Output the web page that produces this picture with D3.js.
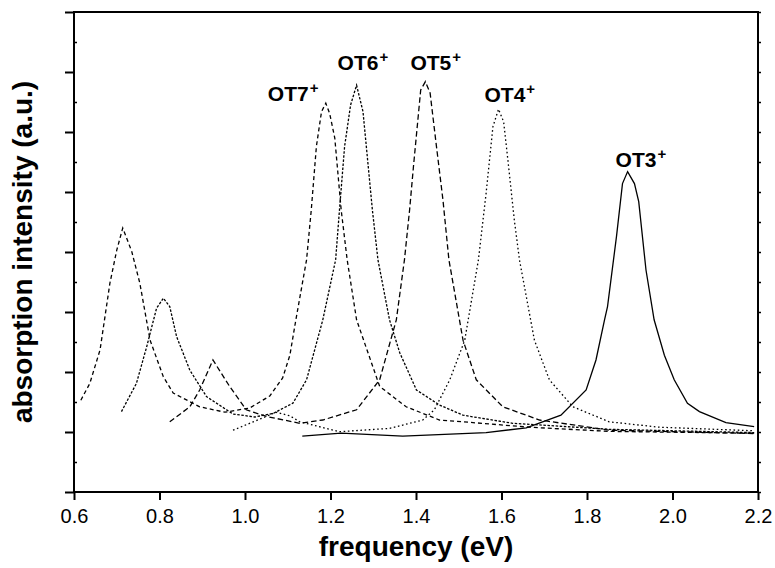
<!DOCTYPE html>
<html>
<head>
<meta charset="utf-8">
<script src="https://cdn.jsdelivr.net/npm/d3@7"></script>
<style>
  body { margin: 0; background: #fff; }
  svg text { font-family: "Liberation Sans", Arial, sans-serif; fill: #000; }
</style>
</head>
<body>
<div id="chart"></div>
<script>
// spectra: [frequency (eV), intensity (a.u.)]
var ot7 = [[0.616,0.53],[0.637,0.81],[0.661,1.37],[0.684,2.48],[0.700,3.03],[0.714,3.40],[0.735,3.01],[0.754,2.48],[0.778,1.53],[0.809,0.92],[0.832,0.65],[0.894,0.42],[0.953,0.33],[1.011,0.40],[1.058,0.60],[1.088,0.90],[1.105,1.28],[1.119,1.87],[1.144,2.87],[1.155,3.70],[1.167,4.76],[1.179,5.34],[1.189,5.48],[1.198,5.31],[1.210,4.90],[1.225,3.70],[1.239,2.87],[1.261,1.87],[1.315,0.76],[1.377,0.42],[1.455,0.20],[1.510,0.17],[1.665,0.08],[1.852,0.01],[2.191,-0.02]];
var ot6 = [[0.711,0.34],[0.746,0.81],[0.770,1.42],[0.793,2.06],[0.809,2.23],[0.824,2.09],[0.840,1.59],[0.871,1.03],[0.910,0.59],[0.972,0.30],[1.023,0.25],[1.066,0.31],[1.112,0.48],[1.144,0.87],[1.182,1.87],[1.212,2.87],[1.221,3.70],[1.233,4.76],[1.247,5.45],[1.261,5.78],[1.276,5.34],[1.298,3.70],[1.311,2.87],[1.338,1.87],[1.362,1.32],[1.401,0.70],[1.455,0.45],[1.510,0.28],[1.626,0.145],[1.852,0.045],[2.191,-0.01]];
var ot5 = [[0.824,0.17],[0.871,0.42],[0.894,0.70],[0.925,1.20],[0.964,0.76],[1.003,0.37],[1.050,0.26],[1.128,0.145],[1.182,0.20],[1.261,0.37],[1.315,0.87],[1.354,1.87],[1.373,2.87],[1.385,3.70],[1.394,4.42],[1.411,5.70],[1.422,5.84],[1.433,5.65],[1.447,4.81],[1.463,3.87],[1.477,2.87],[1.510,1.53],[1.541,0.87],[1.603,0.42],[1.689,0.20],[1.852,0.03],[2.191,-0.025]];
var ot4 = [[0.972,0.03],[1.050,0.26],[1.072,0.33],[1.105,0.27],[1.128,0.17],[1.221,0.005],[1.338,0.06],[1.416,0.20],[1.443,0.37],[1.479,0.87],[1.514,1.53],[1.546,2.87],[1.564,3.98],[1.580,5.09],[1.593,5.38],[1.605,5.17],[1.615,4.53],[1.630,3.53],[1.642,2.87],[1.677,1.53],[1.712,0.87],[1.767,0.42],[1.852,0.17],[1.969,0.08],[2.191,0.02]];
var ot3 = [[1.134,-0.07],[1.225,-0.02],[1.369,-0.07],[1.564,-0.01],[1.658,0.07],[1.739,0.28],[1.798,0.70],[1.821,1.20],[1.841,1.87],[1.848,2.09],[1.869,3.26],[1.883,4.14],[1.895,4.34],[1.911,4.14],[1.921,3.84],[1.938,2.70],[1.957,1.87],[1.981,1.28],[2.004,0.87],[2.035,0.48],[2.063,0.34],[2.125,0.155],[2.191,0.09]];

var seriesNames = ["OT7","OT6","OT5","OT4","OT3"];
var xTicks = [0.6,0.8,1.0,1.2,1.4,1.6,1.8,2.0,2.2];
var xTitle = "frequency (eV)";
var yTitle = "absorption intensity (a.u.)";

var width = 775, height = 568;
var pLeft = 74, pRight = 758, pTop = 12, pBottom = 492;

var svg = d3.select("#chart").append("svg")
  .attr("width", width)
  .attr("height", height);

var x = d3.scaleLinear().domain([0.6, 2.2]).range([pLeft, pRight]);
var y = d3.scaleLinear().domain([-1, 7]).range([pBottom, pTop]);

// axes
svg.append("g")
  .attr("transform", "translate(0," + pBottom + ")")
  .call(d3.axisBottom(x).tickValues(xTicks).tickFormat(d3.format(".1f")).tickSize(8).tickPadding(9))
  .call(function(g){
    g.select(".domain").remove();
    g.selectAll("line").attr("stroke-width", 2);
    g.selectAll("text").style("font-size", "20px");
  });

var yMajor = d3.range(-1, 7.01, 1);
var yMinor = d3.range(-0.5, 7, 1);

svg.append("g")
  .attr("transform", "translate(" + pLeft + ",0)")
  .call(d3.axisLeft(y).tickValues(yMajor).tickFormat("").tickSize(9))
  .call(function(g){ g.select(".domain").remove(); g.selectAll("line").attr("stroke-width", 2); });

svg.append("g")
  .attr("transform", "translate(" + pLeft + ",0)")
  .call(d3.axisRight(y).tickValues(yMinor).tickFormat("").tickSize(3))
  .call(function(g){ g.select(".domain").remove(); g.selectAll("line").attr("stroke-width", 1.5); });

svg.append("g")
  .attr("transform", "translate(" + pRight + ",0)")
  .call(d3.axisRight(y).tickValues(d3.range(-1, 7.01, 0.5)).tickFormat("").tickSize(3))
  .call(function(g){ g.select(".domain").remove(); g.selectAll("line").attr("stroke-width", 1.5); });

// frame
svg.append("rect")
  .attr("x", pLeft).attr("y", pTop)
  .attr("width", pRight - pLeft).attr("height", pBottom - pTop)
  .attr("fill", "none").attr("stroke", "#000").attr("stroke-width", 2);

// titles
svg.append("text")
  .attr("x", (pLeft + pRight) / 2).attr("y", 556)
  .attr("text-anchor", "middle")
  .style("font-size", "28px").style("font-weight", "bold")
  .text(xTitle);

svg.append("text")
  .attr("transform", "translate(32," + (pTop + pBottom) / 2 + ") rotate(-90)")
  .attr("text-anchor", "middle")
  .style("font-size", "28px").style("font-weight", "bold")
  .text(yTitle);

// curves
var line = d3.line()
  .x(function(d){ return x(d[0]); })
  .y(function(d){ return y(d[1]); });

var curves = [ot7, ot6, ot5, ot4, ot3];
var dashes = ["4,3", "2.5,1.6", "5.5,3", "1.6,2.6", null];

var plot = svg.append("g");
curves.forEach(function(c, i){
  plot.append("path")
    .datum(c)
    .attr("d", line)
    .attr("fill", "none")
    .attr("stroke", "#000")
    .attr("stroke-width", 1.3)
    .attr("stroke-dasharray", dashes[i]);
});

// peak labels, placed next to each series maximum
var labelDx = [-58, -19, -15, -14, -12];
var labelDy = [-2, -15, -12, -7, -5];

curves.forEach(function(c, i){
  var peak = c.reduce(function(a, b){ return b[1] > a[1] ? b : a; });
  var t = svg.append("text")
    .attr("x", x(peak[0]) + labelDx[i])
    .attr("y", y(peak[1]) + labelDy[i])
    .style("font-size", "21px").style("font-weight", "bold");
  t.append("tspan").text(seriesNames[i]);
  t.append("tspan").attr("dx", 1).attr("dy", -8).style("font-size", "15px").text("+");
});
</script>
</body>
</html>
